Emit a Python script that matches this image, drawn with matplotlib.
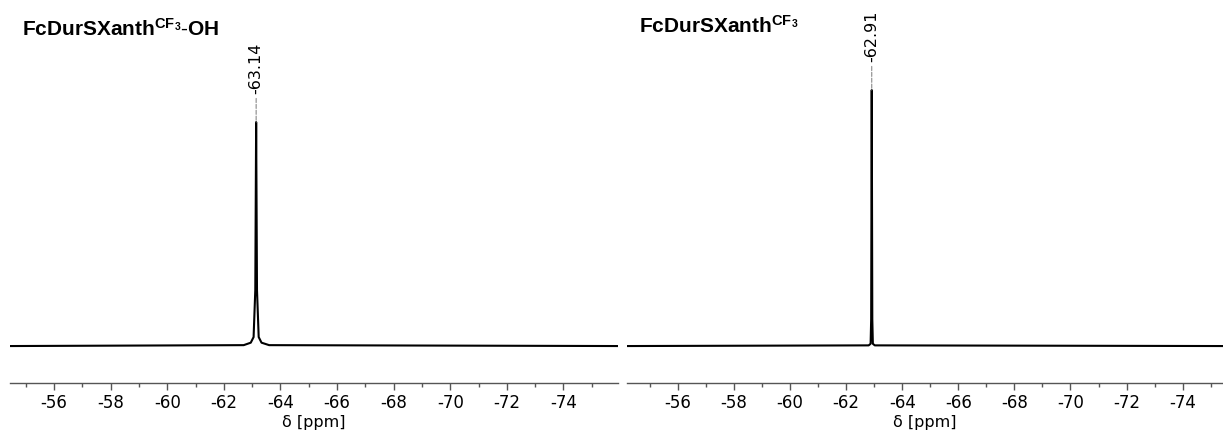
import matplotlib.pyplot as plt
from matplotlib.ticker import MultipleLocator

plt.rcParams['axes.unicode_minus'] = False
plt.rcParams['mathtext.fontset'] = 'custom'
plt.rcParams['mathtext.bf'] = 'Liberation Sans:bold'
plt.rcParams['mathtext.rm'] = 'Liberation Sans'

# Spektrum 1: FcDurSXanth^CF3-OH (ppm, relative Intensität)
ppm_oh = [-54.44, -62.70, -62.95, -63.05, -63.11, -63.14, -63.17, -63.23, -63.33, -63.60, -75.93]
int_oh = [0.0, 0.004, 0.015, 0.04, 0.25, 1.0, 0.25, 0.04, 0.015, 0.004, 0.0]
peak_oh = -63.14

# Spektrum 2: FcDurSXanth^CF3
ppm_cf3 = [-54.18, -62.80, -62.87, -62.89, -62.91, -62.93, -62.95, -63.02, -75.44]
int_cf3 = [0.0, 0.003, 0.01, 0.12, 1.143, 0.12, 0.01, 0.003, 0.0]
peak_cf3 = -62.91

titel = [r'$\mathbf{FcDurSXanth^{CF_3}}$' + r'$\mathbf{\text{-}OH}$',
         r'$\mathbf{FcDurSXanth^{CF_3}}$']

fig = plt.figure(figsize=(12.23, 4.32), dpi=100)

def spektrum(ax, ppm, inten, peak, top):
    ax.plot(ppm, inten, color='black', lw=1.5)
    ax.set_xlim(ppm[0], ppm[-1])
    ax.set_ylim(-0.165, 1.545)
    for s in ['top', 'left', 'right']:
        ax.spines[s].set_visible(False)
    ax.spines['bottom'].set_color('#555555')
    ax.spines['bottom'].set_linewidth(1.0)
    ax.set_yticks([])
    ax.xaxis.set_major_locator(MultipleLocator(2))
    ax.xaxis.set_minor_locator(MultipleLocator(1))
    ax.tick_params(axis='x', which='major', length=5, width=1, color='#555555',
                   labelsize=12, pad=3)
    ax.tick_params(axis='x', which='minor', length=3, width=1, color='#555555')
    ax.set_xlabel('δ [ppm]', fontsize=11.5, labelpad=2)
    ax.annotate(f'{peak:.2f}', xy=(peak, top), xytext=(0, 20),
                textcoords='offset points', rotation=90, ha='center', va='bottom',
                fontsize=11.5,
                arrowprops=dict(arrowstyle='-', color='#888888', lw=0.8,
                                linestyle='--', shrinkA=1, shrinkB=0))

ax1 = fig.add_axes([10 / 1223, 49 / 432, 608 / 1223, 383 / 432])
spektrum(ax1, ppm_oh, int_oh, peak_oh, max(int_oh))
ax1.set_facecolor('none')

ax2 = fig.add_axes([627 / 1223, 49 / 432, 596 / 1223, 383 / 432])
spektrum(ax2, ppm_cf3, int_cf3, peak_cf3, max(int_cf3))
ax2.set_facecolor('none')

fig.text(22 / 1223, 1 - 36 / 432, titel[0], fontsize=15, ha='left', va='baseline')
fig.text(639 / 1223, 1 - 33 / 432, titel[1], fontsize=15, ha='left', va='baseline')

fig.savefig('out.png', dpi=100)
